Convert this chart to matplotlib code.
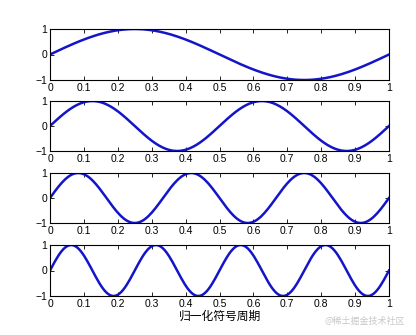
import numpy as np
import matplotlib
matplotlib.use("Agg")
import matplotlib.pyplot as plt

plt.rcParams['font.family'] = ['Liberation Sans', 'Noto Sans CJK SC', 'DejaVu Sans']

cycles = [1, 2, 3, 4]
x_ticks = [0, 0.1, 0.2, 0.3, 0.4, 0.5, 0.6, 0.7, 0.8, 0.9, 1]
x_tick_labels = ['0', '0.1', '0.2', '0.3', '0.4', '0.5', '0.6', '0.7', '0.8', '0.9', '1']
y_ticks = [-1, 0, 1]
xlabel = '归一化符号周期'
watermark = '@稀土掘金技术社区'

t = np.linspace(0, 1, 200)

fig = plt.figure(figsize=(4.16, 3.35), dpi=100)
tops = [29, 101, 173, 245]
bottoms = [80, 151, 223, 296]
W, H = 416, 335
left, right = 50, 389
for i, k in enumerate(cycles):
    ax = fig.add_axes([left / W, 1 - bottoms[i] / H, (right - left) / W, (bottoms[i] - tops[i]) / H])
    ax.plot(t, np.sin(2 * np.pi * k * t), color='#1414c8', lw=1.8)
    ax.set_xlim(0, 1)
    ax.set_ylim(-1, 1)
    ax.set_xticks(x_ticks)
    ax.set_xticklabels(x_tick_labels)
    ax.set_yticks(y_ticks)
    ax.tick_params(direction='in', length=3, width=0.6, labelsize=7.5, pad=2, top=True, right=True)
    for s in ax.spines.values():
        s.set_linewidth(0.8)
    if i == len(cycles) - 1:
        ax.set_xlabel(xlabel, fontsize=8.5, labelpad=1, family=['Noto Sans CJK SC', 'DejaVu Sans'])

fig.text(405 / W, 1 - 321 / H, watermark, ha='right', va='center', fontsize=6.5,
         color='#c8c8c8', family=['Noto Sans CJK SC', 'DejaVu Sans'])

fig.savefig('out.png', dpi=100)
